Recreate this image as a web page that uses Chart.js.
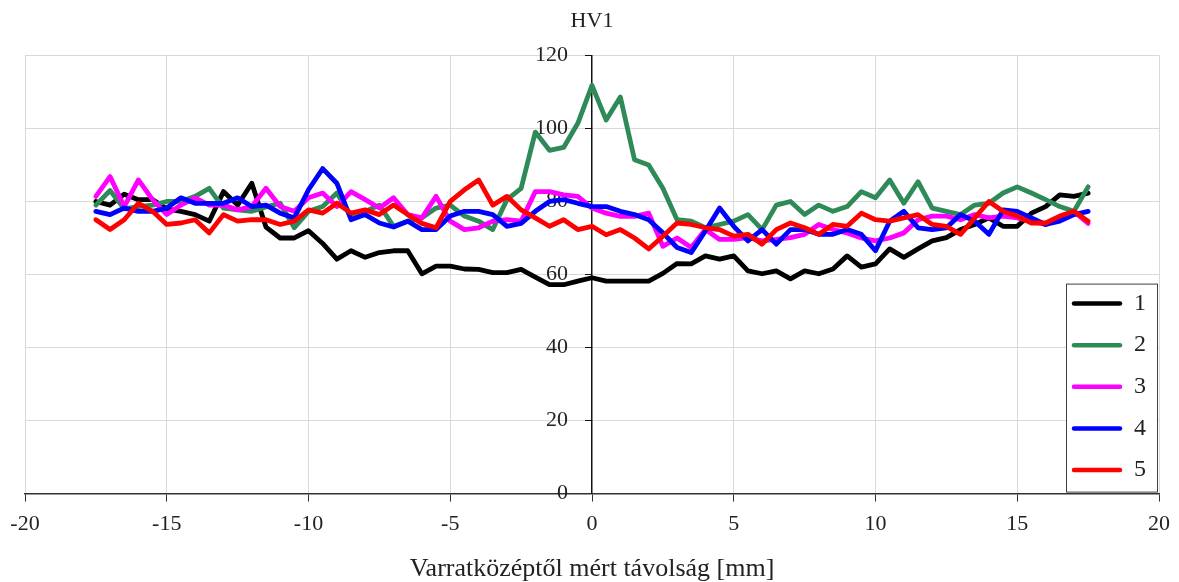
<!DOCTYPE html>
<html>
<head>
<meta charset="utf-8">
<script src="https://cdn.jsdelivr.net/npm/chart.js@4/dist/chart.umd.min.js"></script>
<style>
  html, body { margin: 0; padding: 0; background: #fff; }
  #wrap { width: 1179px; height: 582px; }
</style>
</head>
<body>
<div id="wrap"><canvas id="myChart" width="1179" height="582"></canvas></div>
<script>
// distance from weld centre, -17.5 .. 17.5 mm in 0.5 mm steps
const distances = [];
for (let i = 0; i <= 70; i++) distances.push(-17.5 + i * 0.5);

const seriesNames = ["1", "2", "3", "4", "5"];
const seriesColors = ["#000000", "#2e8b57", "#ff00ff", "#0000ff", "#ff0000"];

const hv1 = [
  80, 79, 82, 80.5, 80.5, 78, 77.3, 76.4, 74.6, 82.7,
  79, 85, 73, 70, 70, 72, 68.5, 64.2, 66.5, 64.7,
  66, 66.5, 66.5, 60.2, 62.3, 62.3, 61.5, 61.4, 60.5, 60.5,
  61.4, 59.3, 57.2, 57.2, 58.2, 59.1, 58.2, 58.2, 58.2, 58.2,
  60.3, 63, 62.9, 65.1, 64.2, 65.1, 61, 60.2, 61, 58.8,
  61, 60.2, 61.5, 65.1, 62, 62.9, 67, 64.7, 67, 69.2,
  70.1, 72.3, 73.7, 75.5, 73.2, 73.2, 76.8, 78.6, 81.8, 81.4,
  82.3
];
const hv2 = [
  79, 83, 78, 78.6, 79, 80, 80, 81.4, 83.6, 78.2,
  77.7, 77.3, 78.5, 79.5, 72.8, 77.3, 78.6, 82.3, 76, 77.3,
  79, 73.2, 74.6, 75.5, 78.2, 79, 76, 74.6, 72.3, 80.5,
  83.6, 99, 94, 94.8, 101.4, 111.8, 102.3, 108.6, 91.4, 90,
  83.6, 75, 74.6, 72.8, 73.7, 74.6, 76.4, 72.3, 79, 80,
  76.4, 79, 77.3, 78.6, 82.7, 81, 85.9, 79.5, 85.4, 78.2,
  77.3, 76.4, 79, 79.5, 82.3, 84, 82.3, 80.5, 78.6, 77.3,
  84
];
const hv3 = [
  81.4, 86.8, 78.6, 85.9, 80.5, 76.4, 79, 81, 79, 79,
  77.7, 78.6, 83.6, 78.6, 77.3, 81, 82.3, 78.6, 82.7, 80.5,
  78.2, 81, 76.4, 75.5, 81.4, 74.6, 72.3, 72.8, 74.6, 75,
  74.6, 82.7, 82.7, 81.8, 81.4, 78.2, 76.8, 75.9, 75.9, 76.8,
  67.7, 70, 67.4, 72.3, 69.6, 69.6, 70.1, 69.2, 69.6, 70.1,
  71, 73.7, 72.3, 71.4, 70, 69.2, 70, 71.4, 75, 76,
  76, 75, 76.4, 75.5, 76, 75.5, 74.6, 73.7, 75.5, 77.3,
  74
];
const hv4 = [
  77.3, 76.4, 78.2, 77.3, 77.3, 78.2, 81, 79.5, 79.5, 79.5,
  81, 78.6, 79, 76.8, 75.5, 83.2, 89, 85, 75, 76.4,
  74.1, 73, 74.6, 72.3, 72.3, 76, 77.3, 77.3, 76.4, 73.2,
  74, 77.3, 80, 80.5, 79.5, 78.6, 78.6, 77.3, 76.4, 75,
  71.4, 67.4, 66, 71.9, 78.2, 73.2, 69.2, 72.3, 68.3, 72.3,
  72.3, 71, 71, 72.3, 71, 66.5, 74.6, 77.3, 72.8, 72.3,
  72.8, 76.4, 74.6, 71, 77.7, 77.3, 75.5, 73.7, 74.6, 76.4,
  77.3
];
const hv5 = [
  75, 72.3, 75, 79.5, 77.3, 73.7, 74.1, 75, 71.4, 76.4,
  74.6, 75, 75, 73.7, 74.6, 77.7, 76.8, 79.5, 76.8, 77.7,
  76.4, 79, 76.4, 74, 72.8, 80, 83.2, 85.9, 79, 81.4,
  77.7, 75.5, 73.2, 75, 72.3, 73.2, 70.9, 72.3, 70, 67,
  70.5, 74.1, 73.7, 72.8, 72.3, 70.5, 71, 68.3, 72.3, 74.1,
  72.8, 71, 73.7, 73.2, 76.8, 75, 74.6, 75.5, 76.4, 73.7,
  73.2, 71, 75.5, 80, 77.3, 76, 74.1, 74.1, 76, 77.3,
  74.6
];
const allSeries = [hv1, hv2, hv3, hv4, hv5];

const xTicks = [-20, -15, -10, -5, 0, 5, 10, 15, 20];
const yTicks = [0, 20, 40, 60, 80, 100, 120];

const FONT = "'Liberation Serif', 'Times New Roman', serif";
const GRID = "#d9d9d9";

// y axis sits at x = 0; chart.js puts its labels right on the line, so push them left
const yLabelShift = {
  id: "yLabelShift",
  beforeDraw(chart) {
    const items = chart.scales.y.getLabelItems(chart.chartArea);
    if (items._shifted) return;
    items.forEach(it => { it.options.translation[0] -= 24; });
    items._shifted = true;
  }
};

// legend box drawn inside the plot, bottom right
const boxLegend = {
  id: "boxLegend",
  afterDraw(chart) {
    const ctx = chart.ctx;
    const area = chart.chartArea;
    const w = 91, h = 208;
    const x0 = area.right - w - 2;
    const y0 = area.bottom - h - 2;
    ctx.save();
    ctx.fillStyle = "#fff";
    ctx.fillRect(x0, y0, w, h);
    ctx.strokeStyle = "#404040";
    ctx.lineWidth = 1;
    ctx.strokeRect(x0 + 0.5, y0 + 0.5, w, h);
    ctx.font = "24px " + FONT;
    ctx.textBaseline = "middle";
    ctx.lineCap = "round";
    chart.data.datasets.forEach((ds, i) => {
      const cy = y0 + 20 + i * 41.6;
      ctx.strokeStyle = ds.borderColor;
      ctx.lineWidth = 4.5;
      ctx.beginPath();
      ctx.moveTo(x0 + 8, cy);
      ctx.lineTo(x0 + 54, cy);
      ctx.stroke();
      ctx.fillStyle = "#222";
      ctx.fillText(ds.label, x0 + 68, cy);
    });
    ctx.restore();
  }
};

const ctx = document.getElementById("myChart").getContext("2d");

new Chart(ctx, {
  type: "scatter",
  data: {
    datasets: allSeries.map((vals, i) => ({
      label: seriesNames[i],
      data: vals.map((v, k) => ({ x: distances[k], y: v })),
      showLine: true,
      borderColor: seriesColors[i],
      backgroundColor: seriesColors[i],
      borderWidth: 4.8,
      pointRadius: 0,
      tension: 0,
      borderJoinStyle: "round",
      borderCapStyle: "round",
      order: 5 - i
    }))
  },
  options: {
    responsive: false,
    animation: false,
    layout: { padding: { left: 25, right: 20, top: 4, bottom: 0 } },
    plugins: {
      legend: { display: false },
      tooltip: { enabled: false },
      title: {
        display: true,
        text: "HV1",
        color: "#222",
        font: { family: FONT, size: 22, weight: "normal" },
        padding: { top: 4, bottom: 21 }
      }
    },
    scales: {
      x: {
        type: "linear",
        min: -20,
        max: 20,
        afterBuildTicks: s => { s.ticks = xTicks.map(v => ({ value: v })); },
        grid: {
          color: c => (c.tick && c.tick.value === 0 ? "rgba(0,0,0,0)" : GRID),
          tickColor: "#333",
          tickLength: 8
        },
        border: { color: "#333", width: 1.5 },
        ticks: {
          color: "#222",
          font: { family: FONT, size: 22 },
          padding: 9,
          maxRotation: 0
        },
        title: {
          display: true,
          text: "Varratközéptől mért távolság [mm]",
          color: "#222",
          font: { family: FONT, size: 26, lineHeight: 1.0 },
          padding: { top: 10, bottom: 0 }
        }
      },
      y: {
        type: "linear",
        position: { x: 0 },
        min: 0,
        max: 120,
        afterBuildTicks: s => { s.ticks = yTicks.map(v => ({ value: v })); },
        grid: {
          color: c => (c.tick && c.tick.value === 0 ? "rgba(0,0,0,0)" : GRID),
          tickColor: "#111",
          tickLength: 6
        },
        border: { color: "#111", width: 1.5 },
        ticks: {
          color: "#222",
          font: { family: FONT, size: 22 }
        }
      }
    }
  },
  plugins: [yLabelShift, boxLegend]
});
</script>
</body>
</html>
